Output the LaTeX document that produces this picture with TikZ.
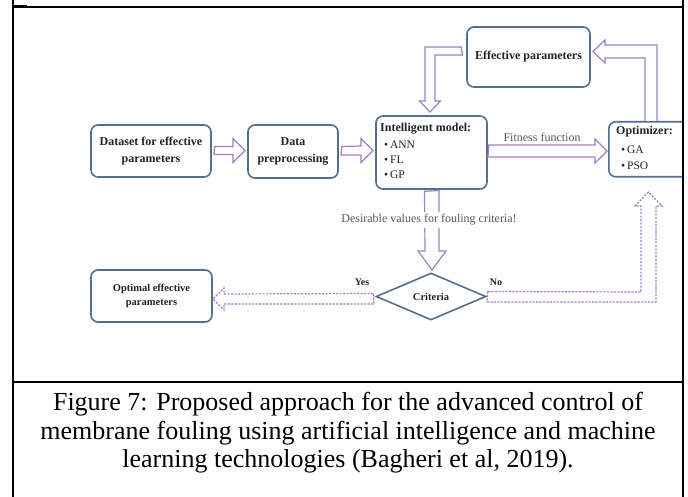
\documentclass[tikz,border=0pt]{standalone}
\usepackage{fontspec}
\setmainfont{Liberation Serif}
\usetikzlibrary{shapes.geometric}
\definecolor{boxc}{RGB}{84,110,140}
\definecolor{arrc}{RGB}{158,128,196}
\definecolor{txt}{RGB}{35,35,35}
\tikzset{
  box/.style={draw=boxc, line width=1.6pt, rounded corners=7pt, fill=white, inner sep=0pt,
    text=txt, font=\fontsize{12}{16.5}\selectfont\bfseries, align=center},
  barrow/.style={draw=arrc, line width=1.2pt, fill=white, line join=miter},
  darrow/.style={barrow, dash pattern=on 2.2pt off 1.3pt, line width=1.2pt},
  lbl/.style={inner sep=0pt, text=txt, font=\fontsize{12}{14}\selectfont\bfseries},
  item/.style={inner sep=0pt, anchor=west, text=txt, font=\fontsize{11.5}{14}\selectfont},
  glbl/.style={inner sep=1pt, text=black!65, font=\fontsize{12}{14}\selectfont},
  frame/.style={line width=2pt, black}
}
\begin{document}
\begin{tikzpicture}[x=1pt,y=-1pt]
\useasboundingbox (0,0) rectangle (688,497);

\begin{scope}
\clip (14,8) rectangle (682,381);
% boxes
\node[box, minimum width=120pt, minimum height=52pt] (ds) at (151,151) {Dataset for effective\\parameters};
\node[box, minimum width=90pt, minimum height=53pt] (dp) at (293,151.5) {Data\\preprocessing};
\node[box, minimum width=111pt, minimum height=73pt] (im) at (431.5,152.5) {};
\node[box, minimum width=123pt, minimum height=60pt] (ep) at (528.5,57) {Effective parameters};
\node[box, minimum width=90pt, minimum height=55pt, anchor=north west] (op) at (608,121) {};
\node[box, minimum width=121pt, minimum height=52pt, font=\fontsize{10.5}{14}\selectfont\bfseries] (oe) at (151.5,296) {Optimal effective\\parameters};
\node[draw=boxc, line width=1.6pt, diamond, aspect=2.34, minimum width=110pt, minimum height=47pt, inner sep=0pt,
  text=txt, font=\fontsize{10.5}{12}\selectfont\bfseries] (cr) at (431,296.5) {Criteria};

% box contents
\node[lbl, anchor=west] (imt) at (380,129) {Intelligent model:};
\node[item] (i1) at (384,145) {\textbullet\,ANN};
\node[item] (i2) at (384,160) {\textbullet\,FL};
\node[item] (i3) at (384,175) {\textbullet\,GP};
\node[lbl, anchor=west] (opt) at (616,132) {Optimizer:};
\node[item] (o1) at (621,150) {\textbullet\,GA};
\node[item] (o2) at (621,166) {\textbullet\,PSO};

% block arrows
\draw[barrow] (ds.east) ++(3,-4.5) -- (233,146.5) -- (233,138.5) -- (245,150.5) -- (233,162.5) -- (233,154.5) -- (214,154.5) -- cycle;
\draw[barrow] (dp.east) ++(3,-5) -- (361,146) -- (361,138.5) -- (373,150.5) -- (361,162.5) -- (361,155) -- (341,155) -- cycle;
\draw[barrow] (im.east) ++(1,-7.5) -- (595,145) -- (595,139) -- (607,151) -- (595,163) -- (595,157) -- (488,157) -- cycle;
\draw[barrow] (ep.west) ++(-5,-10) -- (425,47) -- (425,101) -- (419.5,101) -- (430,112) -- (440.5,101) -- (435,101) -- (435,55) -- (462.5,55) -- cycle;
\draw[barrow] (op.north -| 645,0) -- (645,58) -- (605,58) -- (605,63) -- (593,51.5) -- (605,40) -- (605,45) -- (657,45) -- (op.north -| 657,0);
\draw[barrow] (im.south) ++(-7,1.5) -- (425,251) -- (418,251) -- (432,270) -- (446,251) -- (439,251) -- (439,190.5) -- cycle;
\node[glbl, fill=white, inner sep=2pt] (des) at (429,220) {Desirable values for fouling criteria!};
\node[glbl] (ff) at (542,137) {Fitness function};

% dashed arrows
\draw[darrow] (cr.west) ++(-2,-3) -- (224,294) -- (224,288) -- (213,299) -- (224,310) -- (224,304) -- (374,304) -- cycle;
\draw[darrow] (cr.east) ++(1,-5) -- (641,292) -- (641,206) -- (635,206) -- (648.5,192) -- (662,206) -- (656,206) -- (656,302) -- (487,302) -- cycle;
\node[lbl, font=\fontsize{10}{12}\selectfont\bfseries] (yes) at (362,282) {Yes};
\node[lbl, font=\fontsize{10}{12}\selectfont\bfseries] (no) at (496,282) {No};
\end{scope}

% frame
\draw[frame] (13,0) -- (13,497);
\draw[frame] (683,0) -- (683,497);
\draw[frame] (13,7) -- (683,7);
\draw[line width=3pt] (13,7) -- (27,7);
\draw[frame] (13,382) -- (683,382);

% caption
\node[align=center, inner sep=0pt, font=\fontsize{26}{28.5}\selectfont] (cap) at (348,433)
  {Figure 7: Proposed approach for the advanced control of\\membrane fouling using artificial intelligence and machine\\learning technologies (Bagheri et al, 2019).};
\end{tikzpicture}
\end{document}
